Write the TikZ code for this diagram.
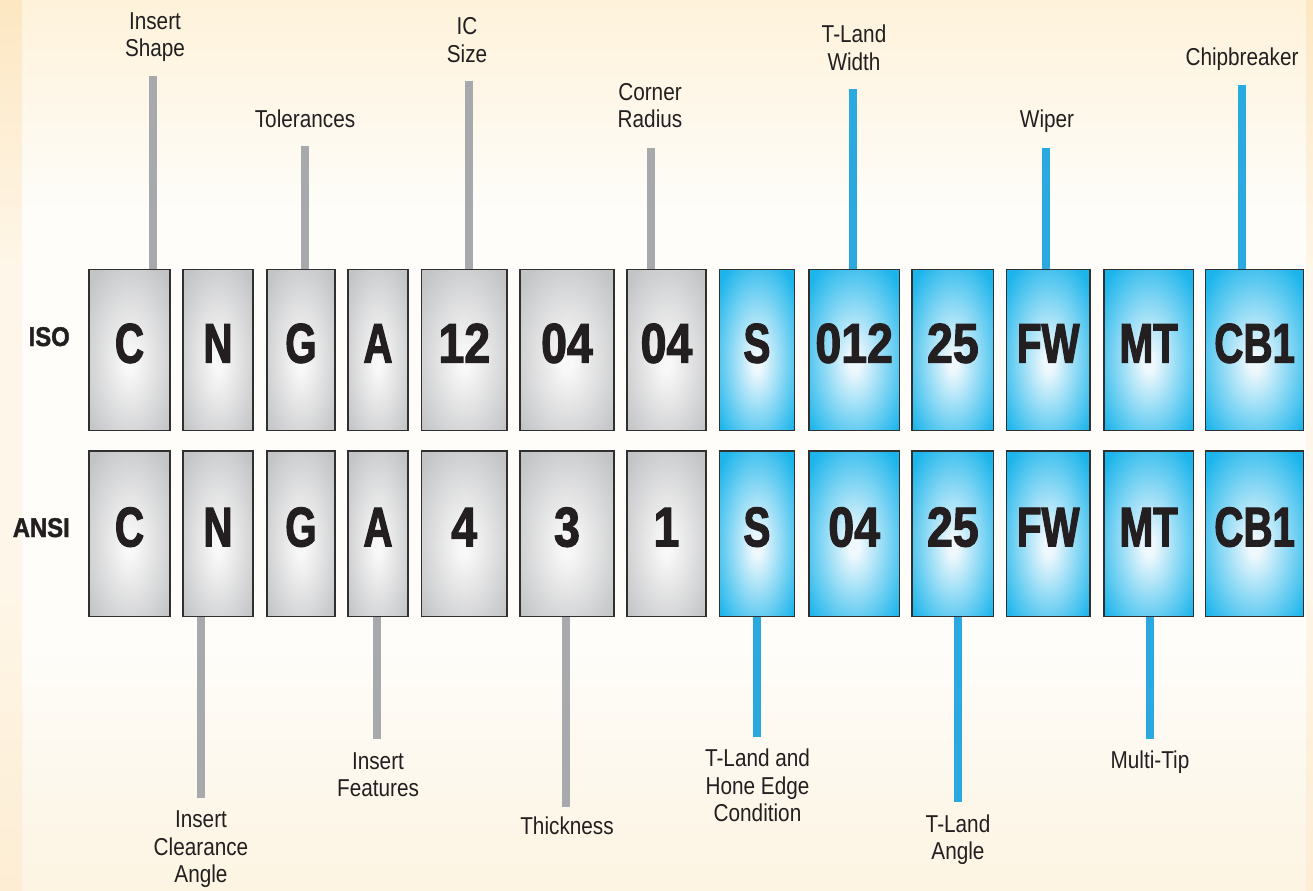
\documentclass[tikz,border=0pt]{standalone}
\usepackage{fontspec}
\setmainfont{Liberation Sans}
\newfontfamily\lblfont[FakeStretch=0.85]{Liberation Sans}
\newfontfamily\letfont[FakeStretch=0.72,FakeBold=2]{Liberation Sans}
\newfontfamily\digfont[FakeStretch=0.83,FakeBold=2]{Liberation Sans}
\newfontfamily\rowfont[FakeStretch=0.88,FakeBold=1.5]{Liberation Sans}
\definecolor{txt}{HTML}{231F20}
\definecolor{boxline}{HTML}{303030}
\definecolor{stemgray}{HTML}{A7A9AC}
\definecolor{stemblue}{HTML}{29A9E0}
\definecolor{gIn}{HTML}{F8F8F8}
\definecolor{gOut}{HTML}{C3C4C6}
\definecolor{bIn}{HTML}{EEF8FD}
\definecolor{bOut}{HTML}{1CB5EB}
\definecolor{bgT}{HTML}{FEF2DA}
\definecolor{bgM}{HTML}{FEFDFA}
\definecolor{bgB}{HTML}{FDF4E2}
\definecolor{sT}{HTML}{FDE7C2}
\definecolor{sM}{HTML}{FEF6E8}
\definecolor{sB}{HTML}{FDEDD3}
\pgfdeclareradialshading{grayshade}{\pgfpoint{0bp}{-4bp}}{color(0bp)=(gIn); color(3bp)=(gIn); color(33bp)=(gOut); color(60bp)=(gOut)}
\pgfdeclareradialshading{blueshade}{\pgfpoint{0bp}{-4bp}}{color(0bp)=(bIn); color(3bp)=(bIn); color(33bp)=(bOut); color(60bp)=(bOut)}
\pgfdeclareverticalshading{bgshade}{100bp}{color(0bp)=(bgB); color(25bp)=(bgB); color(39bp)=(bgM); color(63bp)=(bgM); color(75bp)=(bgT); color(100bp)=(bgT)}
\pgfdeclareverticalshading{stripshade}{100bp}{color(0bp)=(sB); color(25bp)=(sB); color(42bp)=(sM); color(60bp)=(sM); color(75bp)=(sT); color(100bp)=(sT)}
\pgfdeclarelayer{back}
\pgfdeclarelayer{stems}
\pgfsetlayers{back,stems,main}
\begin{document}
\begin{tikzpicture}[x=0.75pt,y=-0.75pt,
  box/.style={draw=boxline, line width=1.1pt, inner sep=0pt, text height=30pt, text depth=11pt, text=txt},
  gbox/.style={box, shade, shading=grayshade},
  bbox/.style={box, shade, shading=blueshade},
  isor/.style={minimum height=120.75pt},
  ansir/.style={minimum height=124.125pt},
  let/.style={font=\letfont\bfseries\fontsize{42}{50}\selectfont},
  dig/.style={font=\digfont\bfseries\fontsize{42}{50}\selectfont},
  lbl/.style={font=\lblfont\fontsize{18.3}{20.6}\selectfont, text=txt, align=center, inner sep=0pt, text depth=0pt, anchor=south},
  rowlbl/.style={font=\rowfont\bfseries\fontsize{20.3}{24}\selectfont, text=txt, inner sep=0pt, anchor=base east},
  gstem/.style={draw=stemgray, line width=6pt},
  bstem/.style={draw=stemblue, line width=6pt},
  w1/.style={minimum width=60.75pt}, w2/.style={minimum width=52.5pt},
  w3/.style={minimum width=51pt}, w4/.style={minimum width=45pt},
  w5/.style={minimum width=64.125pt}, w6/.style={minimum width=70.5pt},
  w7/.style={minimum width=59.25pt}, w8/.style={minimum width=56.1pt},
  w9/.style={minimum width=68.1pt}, w10/.style={minimum width=61.275pt},
  w11/.style={minimum width=62.4pt}, w12/.style={minimum width=67.2pt},
  w13/.style={minimum width=73.575pt}]
\useasboundingbox (0,0) rectangle (1313,891);
\begin{pgfonlayer}{back}
\shade[shading=bgshade] (0,0) rectangle (1313,891);
\shade[shading=stripshade] (0,0) rectangle (22,891);
\shade[shading=stripshade] (1306,0) rectangle (1313,891);
\end{pgfonlayer}

% stem ends
\coordinate (t1) at (153,76);
\coordinate (t3) at (305,146);
\coordinate (t5) at (469,81);
\coordinate (t7) at (651,148);
\coordinate (t9) at (853,89);
\coordinate (t11) at (1046,148);
\coordinate (t13) at (1242,85);
\coordinate (b2) at (201,798);
\coordinate (b4) at (377,739);
\coordinate (b6) at (566,807);
\coordinate (b8) at (757,737);
\coordinate (b10) at (958,802);
\coordinate (b12) at (1150,739);

% ISO row
\node[gbox,isor,w1,let] (iso1) at (129.5,350) {C};
\node[gbox,isor,w2,let] (iso2) at (218,350) {N};
\node[gbox,isor,w3,let] (iso3) at (301,350) {G};
\node[gbox,isor,w4,let] (iso4) at (378,350) {A};
\node[gbox,isor,w5,dig] (iso5) at (464.25,350) {12};
\node[gbox,isor,w6,dig] (iso6) at (567,350) {04};
\node[gbox,isor,w7,dig] (iso7) at (666.5,350) {04};
\node[bbox,isor,w8,let] (iso8) at (756.9,350) {S};
\node[bbox,isor,w9,dig] (iso9) at (854.2,350) {012};
\node[bbox,isor,w10,dig] (iso10) at (952.85,350) {25};
\node[bbox,isor,w11,let] (iso11) at (1048.2,350) {FW};
\node[bbox,isor,w12,let] (iso12) at (1148.7,350) {MT};
\node[bbox,isor,w13,let] (iso13) at (1254.65,350) {CB1};

% ANSI row
\node[gbox,ansir,w1,let] (ansi1) at (129.5,533.75) {C};
\node[gbox,ansir,w2,let] (ansi2) at (218,533.75) {N};
\node[gbox,ansir,w3,let] (ansi3) at (301,533.75) {G};
\node[gbox,ansir,w4,let] (ansi4) at (378,533.75) {A};
\node[gbox,ansir,w5,dig] (ansi5) at (464.25,533.75) {4};
\node[gbox,ansir,w6,dig] (ansi6) at (567,533.75) {3};
\node[gbox,ansir,w7,dig] (ansi7) at (666.5,533.75) {1};
\node[bbox,ansir,w8,let] (ansi8) at (756.9,533.75) {S};
\node[bbox,ansir,w9,dig] (ansi9) at (854.2,533.75) {04};
\node[bbox,ansir,w10,dig] (ansi10) at (952.85,533.75) {25};
\node[bbox,ansir,w11,let] (ansi11) at (1048.2,533.75) {FW};
\node[bbox,ansir,w12,let] (ansi12) at (1148.7,533.75) {MT};
\node[bbox,ansir,w13,let] (ansi13) at (1254.65,533.75) {CB1};

% stems (behind boxes)
\begin{pgfonlayer}{stems}
\draw[gstem] (t1) -- (t1 |- iso1.north);
\draw[gstem] (t3) -- (t3 |- iso3.north);
\draw[gstem] (t5) -- (t5 |- iso5.north);
\draw[gstem] (t7) -- (t7 |- iso7.north);
\draw[bstem] (t9) -- (t9 |- iso9.north);
\draw[bstem] (t11) -- (t11 |- iso11.north);
\draw[bstem] (t13) -- (t13 |- iso13.north);
\draw[gstem] (b2 |- ansi2.south) -- (b2);
\draw[gstem] (b4 |- ansi4.south) -- (b4);
\draw[gstem] (b6 |- ansi6.south) -- (b6);
\draw[bstem] (b8 |- ansi8.south) -- (b8);
\draw[bstem] (b10 |- ansi10.south) -- (b10);
\draw[bstem] (b12 |- ansi12.south) -- (b12);
\end{pgfonlayer}

% row labels
\node[rowlbl] (isoL) at (70,346) {ISO};
\node[rowlbl] (ansiL) at (70,537) {ANSI};

% top labels
\node[lbl] (lShape) at (155,57) {Insert\\Shape};
\node[lbl] (lTol) at (305,128) {Tolerances};
\node[lbl] (lIC) at (467,62.5) {IC\\Size};
\node[lbl] (lCorner) at (650,128) {Corner\\Radius};
\node[lbl] (lTW) at (854,70.5) {T-Land\\Width};
\node[lbl] (lWiper) at (1047,128) {Wiper};
\node[lbl] (lChip) at (1242,66) {Chipbreaker};

% bottom labels
\node[lbl] (lICA) at (201,883) {Insert\\Clearance\\Angle};
\node[lbl] (lIF) at (378,797) {Insert\\Features};
\node[lbl] (lThick) at (567,835) {Thickness};
\node[lbl] (lTH) at (757.5,822) {T-Land and\\Hone Edge\\Condition};
\node[lbl] (lTA) at (958,860) {T-Land\\Angle};
\node[lbl] (lMT) at (1150,769) {Multi-Tip};
\end{tikzpicture}
\end{document}
